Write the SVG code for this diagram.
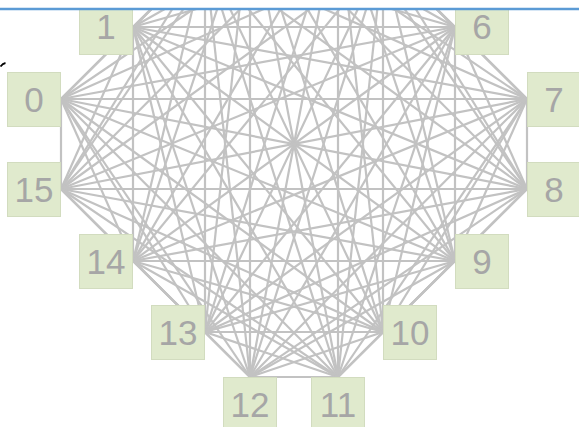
<svg xmlns="http://www.w3.org/2000/svg" width="579" height="427" viewBox="0 0 579 427">
<style>
.e line{stroke:#c2c2c2;stroke-width:2.2;fill:none}
.n rect{fill:#e0eacd;stroke:#d2dcbf;stroke-width:1}
.n text{font-family:"Liberation Sans",Arial,sans-serif;font-size:35px;fill:#a6a6a6;text-anchor:middle}
</style>
<rect x="0" y="0" width="579" height="427" fill="#ffffff"/>
<g id="connectors" class="e">
<line x1="61" y1="99" x2="133" y2="27"/><line x1="61" y1="99" x2="205" y2="-44"/><line x1="61" y1="99" x2="250" y2="-89"/><line x1="61" y1="99" x2="338" y2="-89"/><line x1="61" y1="99" x2="383" y2="-44"/><line x1="61" y1="99" x2="455" y2="27"/><line x1="61" y1="99" x2="527" y2="99"/><line x1="61" y1="99" x2="527" y2="189"/><line x1="61" y1="99" x2="455" y2="261"/><line x1="61" y1="99" x2="383" y2="332"/><line x1="61" y1="99" x2="338" y2="377"/><line x1="61" y1="99" x2="250" y2="377"/><line x1="61" y1="99" x2="205" y2="332"/><line x1="61" y1="99" x2="133" y2="261"/><line x1="61" y1="99" x2="61" y2="189"/>
<line x1="133" y1="27" x2="205" y2="-44"/><line x1="133" y1="27" x2="250" y2="-89"/><line x1="133" y1="27" x2="338" y2="-89"/><line x1="133" y1="27" x2="383" y2="-44"/><line x1="133" y1="27" x2="455" y2="27"/><line x1="133" y1="27" x2="527" y2="99"/><line x1="133" y1="27" x2="527" y2="189"/><line x1="133" y1="27" x2="455" y2="261"/><line x1="133" y1="27" x2="383" y2="332"/><line x1="133" y1="27" x2="338" y2="377"/><line x1="133" y1="27" x2="250" y2="377"/><line x1="133" y1="27" x2="205" y2="332"/><line x1="133" y1="27" x2="133" y2="261"/><line x1="133" y1="27" x2="61" y2="189"/>
<line x1="205" y1="-44" x2="455" y2="27"/><line x1="205" y1="-44" x2="527" y2="99"/><line x1="205" y1="-44" x2="527" y2="189"/><line x1="205" y1="-44" x2="455" y2="261"/><line x1="205" y1="-44" x2="383" y2="332"/><line x1="205" y1="-44" x2="338" y2="377"/><line x1="205" y1="-44" x2="250" y2="377"/><line x1="205" y1="-44" x2="205" y2="332"/><line x1="205" y1="-44" x2="133" y2="261"/><line x1="205" y1="-44" x2="61" y2="189"/>
<line x1="250" y1="-89" x2="455" y2="27"/><line x1="250" y1="-89" x2="527" y2="99"/><line x1="250" y1="-89" x2="527" y2="189"/><line x1="250" y1="-89" x2="455" y2="261"/><line x1="250" y1="-89" x2="383" y2="332"/><line x1="250" y1="-89" x2="338" y2="377"/><line x1="250" y1="-89" x2="250" y2="377"/><line x1="250" y1="-89" x2="205" y2="332"/><line x1="250" y1="-89" x2="133" y2="261"/><line x1="250" y1="-89" x2="61" y2="189"/>
<line x1="338" y1="-89" x2="455" y2="27"/><line x1="338" y1="-89" x2="527" y2="99"/><line x1="338" y1="-89" x2="527" y2="189"/><line x1="338" y1="-89" x2="455" y2="261"/><line x1="338" y1="-89" x2="383" y2="332"/><line x1="338" y1="-89" x2="338" y2="377"/><line x1="338" y1="-89" x2="250" y2="377"/><line x1="338" y1="-89" x2="205" y2="332"/><line x1="338" y1="-89" x2="133" y2="261"/><line x1="338" y1="-89" x2="61" y2="189"/>
<line x1="383" y1="-44" x2="455" y2="27"/><line x1="383" y1="-44" x2="527" y2="99"/><line x1="383" y1="-44" x2="527" y2="189"/><line x1="383" y1="-44" x2="455" y2="261"/><line x1="383" y1="-44" x2="383" y2="332"/><line x1="383" y1="-44" x2="338" y2="377"/><line x1="383" y1="-44" x2="250" y2="377"/><line x1="383" y1="-44" x2="205" y2="332"/><line x1="383" y1="-44" x2="133" y2="261"/><line x1="383" y1="-44" x2="61" y2="189"/>
<line x1="455" y1="27" x2="527" y2="99"/><line x1="455" y1="27" x2="527" y2="189"/><line x1="455" y1="27" x2="455" y2="261"/><line x1="455" y1="27" x2="383" y2="332"/><line x1="455" y1="27" x2="338" y2="377"/><line x1="455" y1="27" x2="250" y2="377"/><line x1="455" y1="27" x2="205" y2="332"/><line x1="455" y1="27" x2="133" y2="261"/><line x1="455" y1="27" x2="61" y2="189"/>
<line x1="527" y1="99" x2="527" y2="189"/><line x1="527" y1="99" x2="455" y2="261"/><line x1="527" y1="99" x2="383" y2="332"/><line x1="527" y1="99" x2="338" y2="377"/><line x1="527" y1="99" x2="250" y2="377"/><line x1="527" y1="99" x2="205" y2="332"/><line x1="527" y1="99" x2="133" y2="261"/><line x1="527" y1="99" x2="61" y2="189"/>
<line x1="527" y1="189" x2="455" y2="261"/><line x1="527" y1="189" x2="383" y2="332"/><line x1="527" y1="189" x2="338" y2="377"/><line x1="527" y1="189" x2="250" y2="377"/><line x1="527" y1="189" x2="205" y2="332"/><line x1="527" y1="189" x2="133" y2="261"/><line x1="527" y1="189" x2="61" y2="189"/>
<line x1="455" y1="261" x2="383" y2="332"/><line x1="455" y1="261" x2="338" y2="377"/><line x1="455" y1="261" x2="250" y2="377"/><line x1="455" y1="261" x2="205" y2="332"/><line x1="455" y1="261" x2="133" y2="261"/><line x1="455" y1="261" x2="61" y2="189"/>
<line x1="383" y1="332" x2="338" y2="377"/><line x1="383" y1="332" x2="250" y2="377"/><line x1="383" y1="332" x2="205" y2="332"/><line x1="383" y1="332" x2="133" y2="261"/><line x1="383" y1="332" x2="61" y2="189"/>
<line x1="338" y1="377" x2="250" y2="377"/><line x1="338" y1="377" x2="205" y2="332"/><line x1="338" y1="377" x2="133" y2="261"/><line x1="338" y1="377" x2="61" y2="189"/>
<line x1="250" y1="377" x2="205" y2="332"/><line x1="250" y1="377" x2="133" y2="261"/><line x1="250" y1="377" x2="61" y2="189"/>
<line x1="205" y1="332" x2="133" y2="261"/><line x1="205" y1="332" x2="61" y2="189"/>
<line x1="133" y1="261" x2="61" y2="189"/>
</g>
<g id="node-0" class="n"><rect x="7.5" y="72.5" width="53" height="54"/><text x="34" y="112">0</text></g>
<g id="node-1" class="n"><rect x="79.5" y="0.5" width="53" height="54"/><text x="106" y="39">1</text></g>
<g id="node-6" class="n"><rect x="455.5" y="0.5" width="53" height="54"/><text x="482" y="39">6</text></g>
<g id="node-7" class="n"><rect x="527.5" y="72.5" width="53" height="54"/><text x="554" y="112">7</text></g>
<g id="node-8" class="n"><rect x="527.5" y="162.5" width="53" height="54"/><text x="554" y="202">8</text></g>
<g id="node-9" class="n"><rect x="455.5" y="234.5" width="53" height="54"/><text x="482" y="274">9</text></g>
<g id="node-10" class="n"><rect x="383.5" y="305.5" width="53" height="54"/><text x="410" y="345">10</text></g>
<g id="node-11" class="n"><rect x="311.5" y="377.5" width="53" height="54"/><text x="338" y="417">11</text></g>
<g id="node-12" class="n"><rect x="223.5" y="377.5" width="53" height="54"/><text x="250" y="417">12</text></g>
<g id="node-13" class="n"><rect x="151.5" y="305.5" width="53" height="54"/><text x="178" y="345">13</text></g>
<g id="node-14" class="n"><rect x="79.5" y="234.5" width="53" height="54"/><text x="106" y="274">14</text></g>
<g id="node-15" class="n"><rect x="7.5" y="162.5" width="53" height="54"/><text x="34" y="202">15</text></g>
<rect x="0" y="0" width="579" height="8" fill="#ffffff"/>
<line x1="0" y1="9" x2="579" y2="9" stroke="#5b9bd5" stroke-width="2.5"/>
<path d="M0.5,66.5 Q2.5,63.5 5.5,63" stroke="#000000" stroke-width="1.8" fill="none"/>
</svg>
